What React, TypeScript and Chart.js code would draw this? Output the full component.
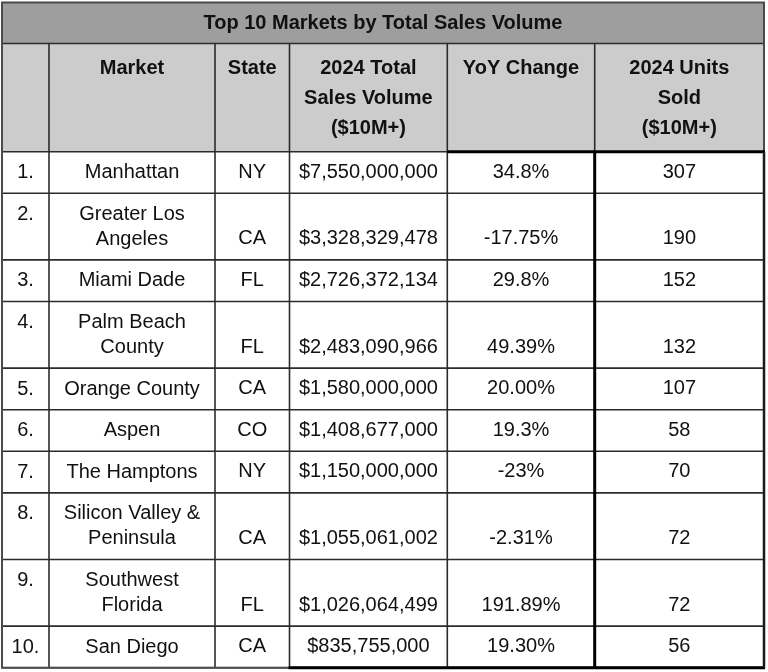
import React, { useEffect, useRef } from "react";
import { Chart, registerables } from "chart.js";

Chart.register(...registerables);

// ---------- data ----------
const title = "Top 10 Markets by Total Sales Volume";
const headers = ["", "Market", "State", "2024 Total\nSales Volume\n($10M+)", "YoY Change", "2024 Units\nSold\n($10M+)"];
const ranks = ["1.", "2.", "3.", "4.", "5.", "6.", "7.", "8.", "9.", "10."];
const markets = [
  "Manhattan",
  "Greater Los\nAngeles",
  "Miami Dade",
  "Palm Beach\nCounty",
  "Orange County",
  "Aspen",
  "The Hamptons",
  "Silicon Valley &\nPeninsula",
  "Southwest\nFlorida",
  "San Diego",
];
const states = ["NY", "CA", "FL", "FL", "CA", "CO", "NY", "CA", "FL", "CA"];
const salesVolume = [7550000000, 3328329478, 2726372134, 2483090966, 1580000000, 1408677000, 1150000000, 1055061002, 1026064499, 835755000];
const yoyChange = ["34.8%", "-17.75%", "29.8%", "49.39%", "20.00%", "19.3%", "-23%", "-2.31%", "191.89%", "19.30%"];
const unitsSold = [307, 190, 152, 132, 107, 58, 70, 72, 72, 56];

// ---------- layout (scale units) ----------
const TABLE_LEFT = 2;
const TABLE_TOP = 2.5;
const colWidths = [47, 166, 74.5, 157.8, 147.4, 169.3];
const TITLE_H = 41;
const HEADER_H = 108.2;
const ROW_SINGLE = 41.6;
const ROW_DOUBLE = 66.6;
const FONT = '"Liberation Sans", Arial, Helvetica, sans-serif';

const fmtMoney = (v: number) => "$" + v.toLocaleString("en-US");

const tablePlugin = {
  id: "tableDraw",
  afterDatasetsDraw(chart: any) {
    const ctx: CanvasRenderingContext2D = chart.ctx;
    const xs = chart.scales.x;
    const ys = chart.scales.y;
    const X = (v: number) => xs.getPixelForValue(v);
    const Y = (v: number) => ys.getPixelForValue(v);

    const colEdges: number[] = [TABLE_LEFT];
    colWidths.forEach((w) => colEdges.push(colEdges[colEdges.length - 1] + w));
    const right = colEdges[colEdges.length - 1];
    const titleBottom = TABLE_TOP + TITLE_H;
    const headerBottom = titleBottom + HEADER_H;
    const rowEdges: number[] = [headerBottom];
    markets.forEach((m) => {
      const h = m.includes("\n") ? ROW_DOUBLE : ROW_SINGLE;
      rowEdges.push(rowEdges[rowEdges.length - 1] + h);
    });
    const bottom = rowEdges[rowEdges.length - 1];

    ctx.save();
    // backgrounds
    ctx.fillStyle = "#ffffff";
    ctx.fillRect(X(TABLE_LEFT), Y(headerBottom), X(right) - X(TABLE_LEFT), Y(bottom) - Y(headerBottom));
    ctx.fillStyle = "#9e9e9e";
    ctx.fillRect(X(TABLE_LEFT), Y(TABLE_TOP), X(right) - X(TABLE_LEFT), Y(titleBottom) - Y(TABLE_TOP));
    ctx.fillStyle = "#cccccc";
    ctx.fillRect(X(TABLE_LEFT), Y(titleBottom), X(right) - X(TABLE_LEFT), Y(headerBottom) - Y(titleBottom));

    const line = (x1: number, y1: number, x2: number, y2: number, w: number, c: string) => {
      ctx.beginPath();
      ctx.strokeStyle = c;
      ctx.lineWidth = w;
      ctx.moveTo(X(x1), Y(y1));
      ctx.lineTo(X(x2), Y(y2));
      ctx.stroke();
    };

    // thin grid
    const thin = "#2b2b2b";
    line(TABLE_LEFT, titleBottom, right, titleBottom, 1.6, thin);
    rowEdges.forEach((ry) => line(TABLE_LEFT, ry, right, ry, 1.6, thin));
    colEdges.slice(1, -1).forEach((cx) => line(cx, titleBottom, cx, bottom, 1.6, thin));

    // outer border
    ctx.strokeStyle = "#4a4a4a";
    ctx.lineWidth = 2;
    ctx.strokeRect(X(TABLE_LEFT), Y(TABLE_TOP), X(right) - X(TABLE_LEFT), Y(bottom) - Y(TABLE_TOP));

    // thick box around right columns
    const thick = "#000000";
    line(colEdges[4], headerBottom, right + 1, headerBottom, 3, thick);
    line(colEdges[3] - 1, bottom, right + 1, bottom, 3, thick);
    line(colEdges[5], headerBottom, colEdges[5], bottom, 3, thick);
    line(right, headerBottom, right, bottom, 2.5, "#1a1a1a");

    // text
    ctx.textAlign = "center";
    ctx.textBaseline = "middle";
    ctx.fillStyle = "#111111";

    // title
    ctx.font = `bold 20px ${FONT}`;
    ctx.fillText(title, X((TABLE_LEFT + right) / 2), Y(TABLE_TOP + 21));

    // headers
    headers.forEach((h, ci) => {
      const cx = (colEdges[ci] + colEdges[ci + 1]) / 2;
      h.split("\n").forEach((t, li) => {
        ctx.fillText(t, X(cx), Y(titleBottom + 25 + li * 30));
      });
    });

    // rows
    ctx.font = `20px ${FONT}`;
    markets.forEach((m, ri) => {
      const top = rowEdges[ri];
      const bot = rowEdges[ri + 1];
      const cells = [ranks[ri], m, states[ri], fmtMoney(salesVolume[ri]), yoyChange[ri], String(unitsSold[ri])];
      cells.forEach((c, ci) => {
        const cx = (colEdges[ci] + colEdges[ci + 1]) / 2;
        const lines = c.split("\n");
        if (ci <= 1) {
          // top aligned
          lines.forEach((t, li) => ctx.fillText(t, X(cx), Y(top + 21 + li * 25)));
        } else {
          // bottom aligned
          ctx.fillText(c, X(cx), Y(bot - 21));
        }
      });
    });
    ctx.restore();
  },
};

export default function App() {
  const ref = useRef<HTMLCanvasElement | null>(null);
  useEffect(() => {
    if (!ref.current) return;
    const chart = new Chart(ref.current, {
      type: "scatter",
      data: {
        datasets: [
          {
            data: unitsSold.map((_, i) => ({ x: 0, y: i })),
            pointRadius: 0,
            showLine: false,
          },
        ],
      },
      options: {
        responsive: false,
        animation: false,
        devicePixelRatio: 1,
        layout: { padding: 0 },
        plugins: { legend: { display: false }, tooltip: { enabled: false } },
        events: [],
        scales: {
          x: { type: "linear", min: 0, max: 768, display: false },
          y: { type: "linear", min: 0, max: 672, reverse: true, display: false },
        },
      },
      plugins: [tablePlugin],
    });
    return () => chart.destroy();
  }, []);
  return (
    <div style={{ position: "fixed", left: 0, top: 0, width: 768, height: 672, background: "#fff" }}>
      <canvas ref={ref} width={768} height={672} style={{ display: "block" }} />
    </div>
  );
}
